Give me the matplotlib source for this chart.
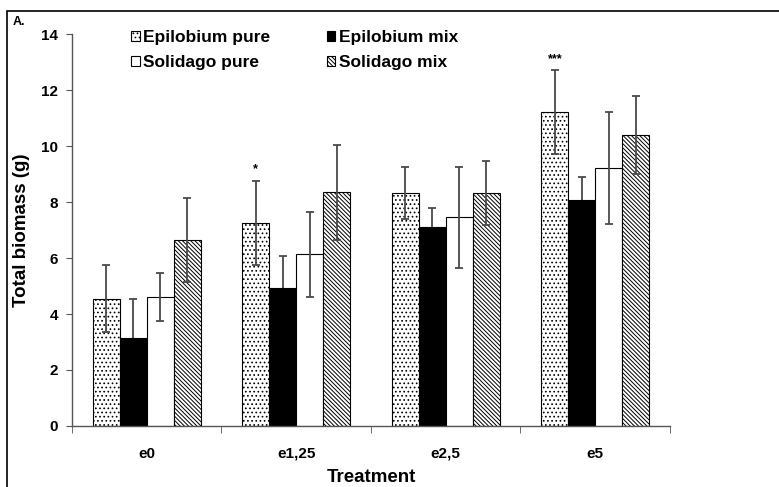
import matplotlib
matplotlib.use("Agg")
import matplotlib.pyplot as plt
import numpy as np
from matplotlib.patches import Rectangle

plt.rcParams['font.family'] = ['Liberation Sans', 'DejaVu Sans']
plt.rcParams['font.weight'] = 'bold'
plt.rcParams['hatch.linewidth'] = 0.7

treatments = ["e0", "e1,25", "e2,5", "e5"]
series = ["Epilobium pure", "Epilobium mix", "Solidago pure", "Solidago mix"]

epilobium_pure = [4.55, 7.25, 8.33, 11.2]
epilobium_mix = [3.15, 4.93, 7.1, 8.08]
solidago_pure = [4.6, 6.13, 7.45, 9.2]
solidago_mix = [6.65, 8.35, 8.32, 10.4]

epilobium_pure_err = [1.2, 1.5, 0.93, 1.5]
epilobium_mix_err = [1.4, 1.15, 0.7, 0.8]
solidago_pure_err = [0.85, 1.52, 1.8, 2.0]
solidago_mix_err = [1.5, 1.7, 1.14, 1.4]

significance = ["", "*", "", "***"]

values = [epilobium_pure, epilobium_mix, solidago_pure, solidago_mix]
errors = [epilobium_pure_err, epilobium_mix_err, solidago_pure_err, solidago_mix_err]
faces = ["white", "black", "white", "white"]
hatches = ["....", None, None, "\\\\\\\\\\\\\\\\"]
# error bars on the solid black bars sit behind the bar, so only the upper arm shows
err_z = [3, 1, 3, 3]

fig = plt.figure(figsize=(7.79, 4.87), dpi=100)
ax = fig.add_axes([0.0924, 0.1253, 0.7676, 0.8047])

x = np.arange(len(treatments))
width = 0.18
offsets = [-1.5, -0.5, 0.5, 1.5]
handles = []
for vals, errs, fc, h, off, name, z in zip(values, errors, faces, hatches, offsets, series, err_z):
    b = ax.bar(x + off * width, vals, width, color=fc, edgecolor="black",
               linewidth=0.8, hatch=h, label=name, zorder=2)
    ax.errorbar(x + off * width, vals, yerr=errs, fmt="none", ecolor="#4a4a4a",
                elinewidth=1.3, capsize=3, capthick=1.3, zorder=z)
    handles.append(b)

for i, s in enumerate(significance):
    if s:
        top = epilobium_pure[i] + epilobium_pure_err[i]
        ax.text(x[i] - 1.5 * width, top + 0.2, s, ha="center", va="bottom",
                fontsize=9, fontweight="bold")

ax.set_xlim(-0.5, len(treatments) - 0.5)
ax.set_ylim(0, 14)
ax.set_yticks(range(0, 15, 2))
ax.set_xticks(x)
ax.set_xticklabels(treatments)
ax.set_xticks(np.arange(-0.5, len(treatments)), minor=True)
ax.tick_params(axis="x", which="major", length=0, pad=15, labelsize=11)
ax.tick_params(axis="x", which="minor", length=5, color="#555555", direction="out")
ax.tick_params(axis="y", length=4, color="#555555", labelsize=11, pad=6)
for lbl in ax.get_xticklabels() + ax.get_yticklabels():
    lbl.set_fontweight("bold")

for side in ["top", "right"]:
    ax.spines[side].set_visible(False)
for side in ["left", "bottom"]:
    ax.spines[side].set_color("#555555")
    ax.spines[side].set_linewidth(1.0)

ax.set_xlabel("Treatment", fontsize=13.5, fontweight="bold", labelpad=6)
ax.set_ylabel("Total biomass (g)", fontsize=13.5, fontweight="bold", labelpad=8)

order = [0, 2, 1, 3]
leg = fig.legend([handles[i] for i in order], [series[i] for i in order], ncol=2,
                 loc="upper left", bbox_to_anchor=(131 / 779, 1 - 30 / 487),
                 frameon=False, borderpad=0, borderaxespad=0,
                 handlelength=0.5, handleheight=0.5, handletextpad=0.2,
                 columnspacing=3.25, labelspacing=0.6,
                 prop={"weight": "bold", "size": 12.5})

fig.patches.append(Rectangle((7 / 779, -0.05), 1.2, 1 - 11 / 487 + 0.05,
                             transform=fig.transFigure, fill=False,
                             edgecolor="black", linewidth=1.2))
fig.text(13 / 779, 1 - 22 / 487, "A.", fontsize=9, fontweight="bold",
         ha="left", va="center")

fig.savefig("out.png", dpi=100)
